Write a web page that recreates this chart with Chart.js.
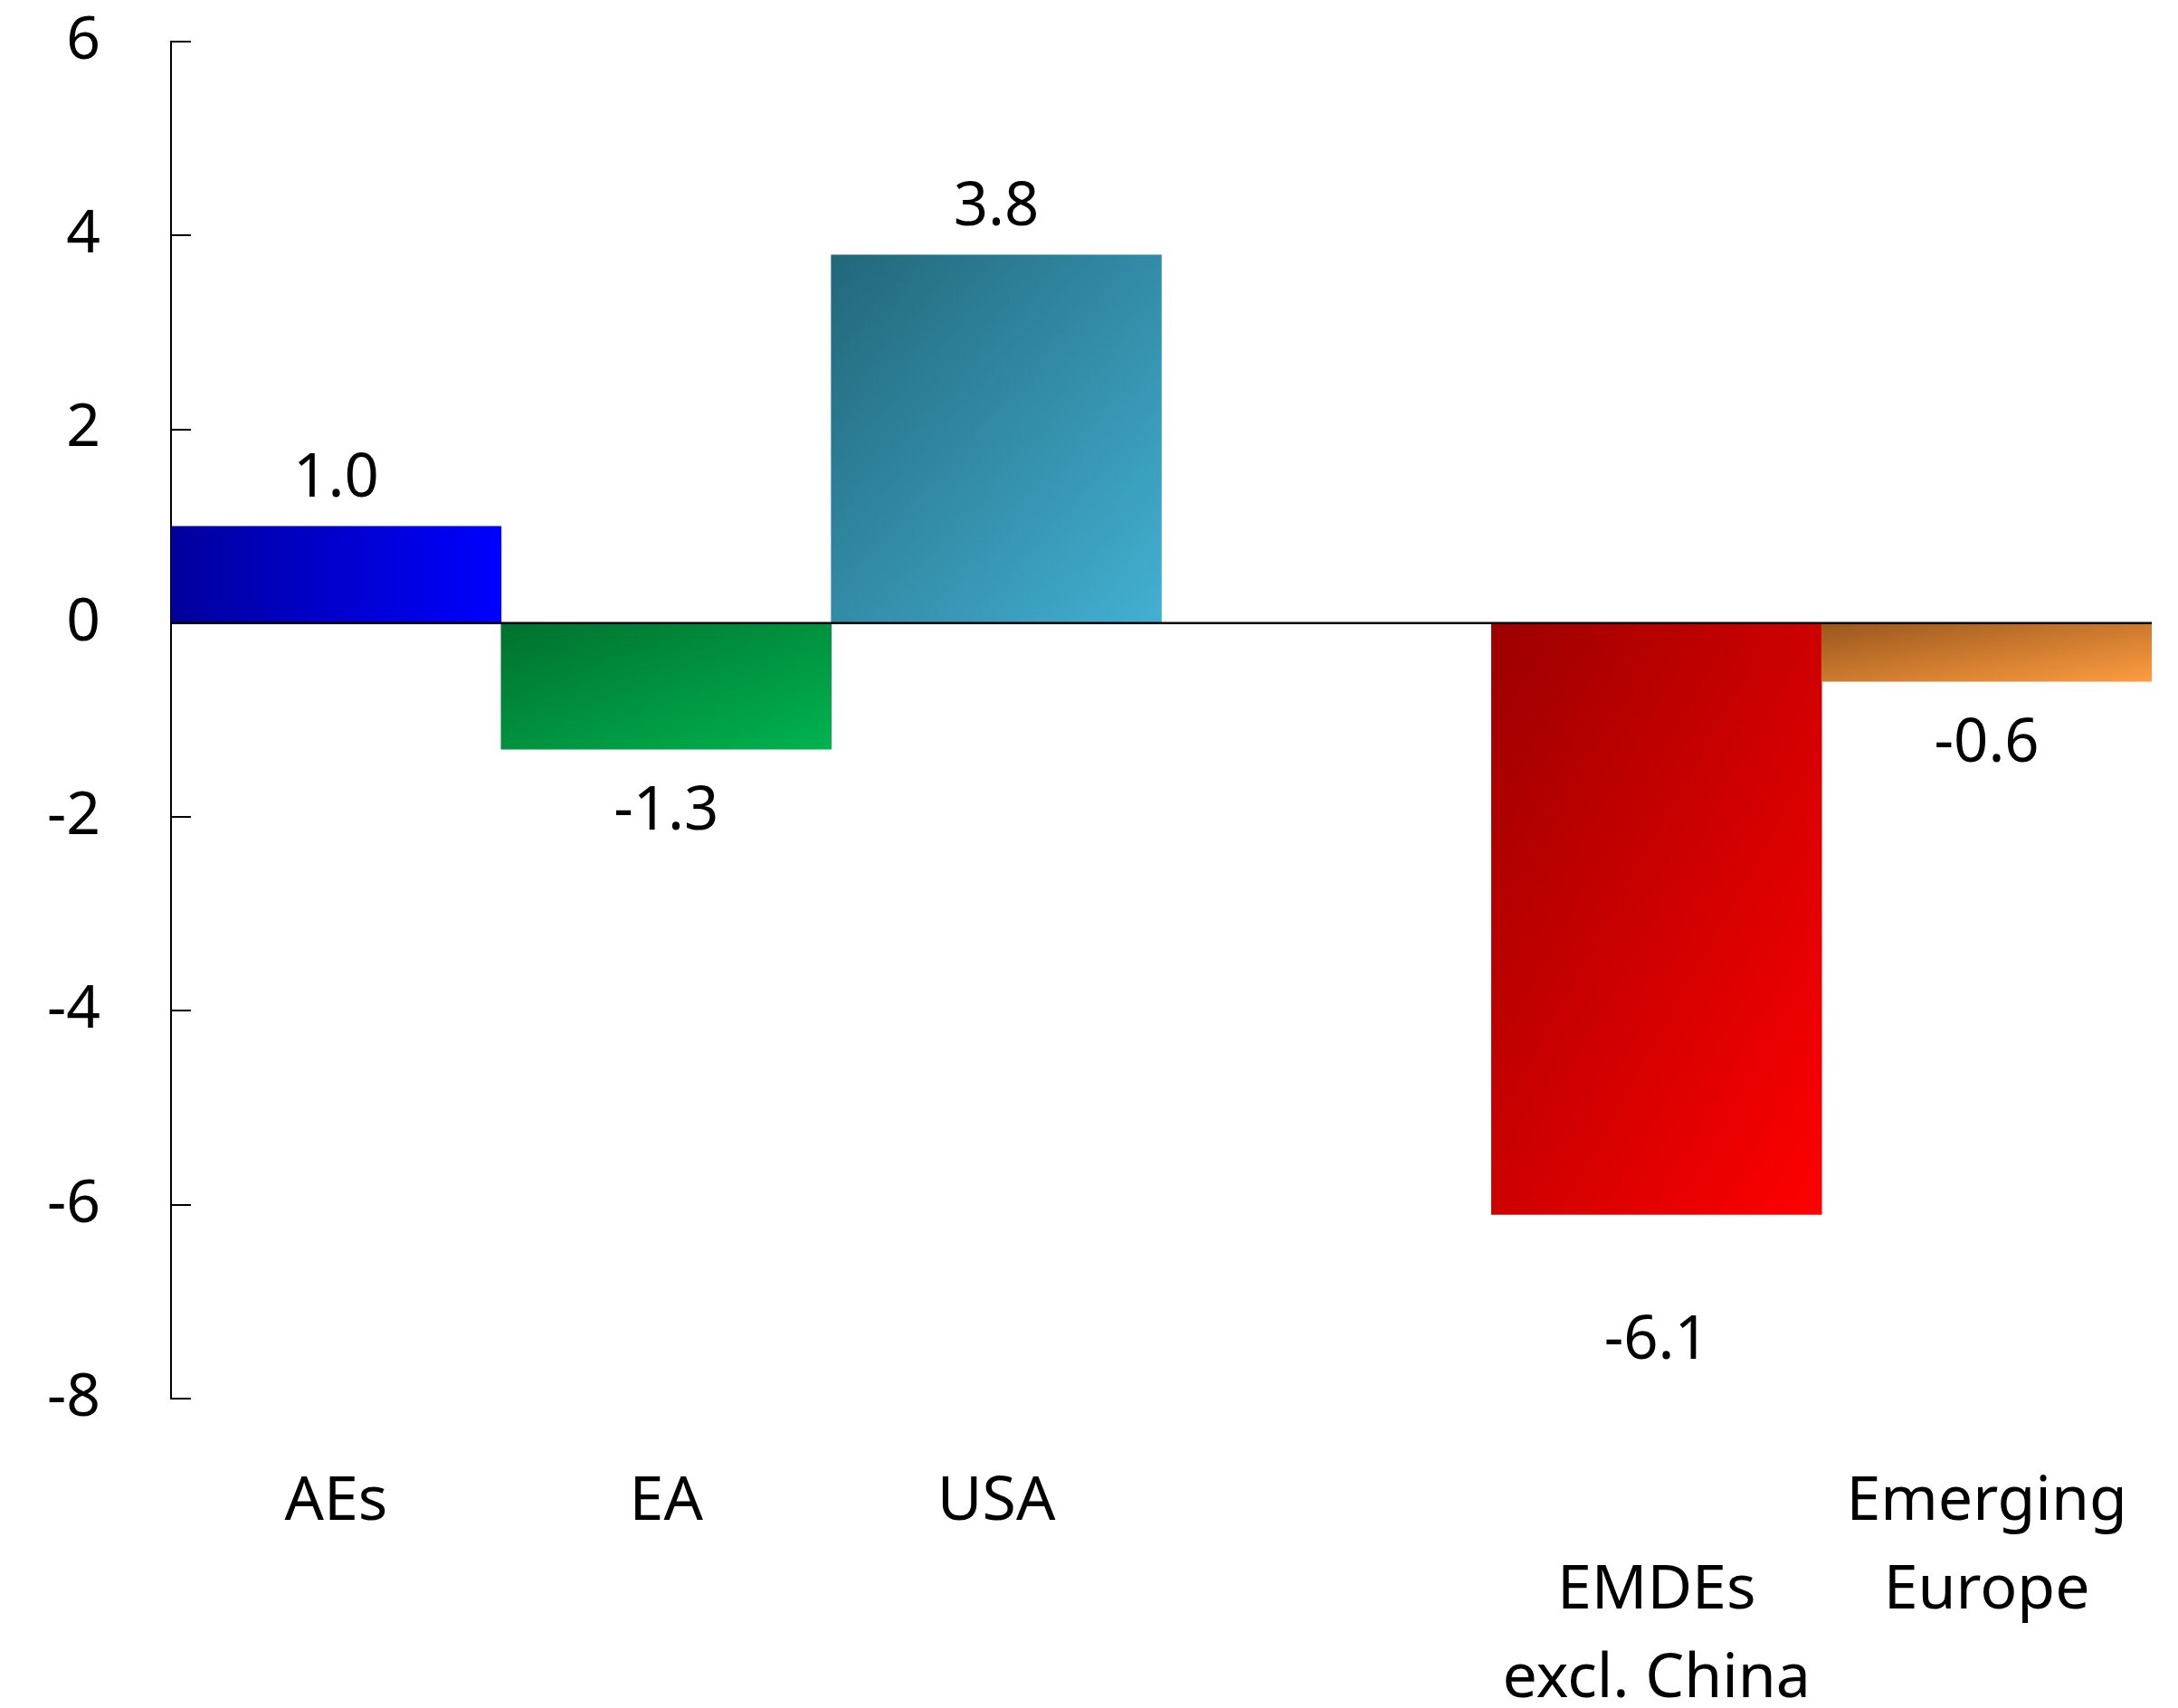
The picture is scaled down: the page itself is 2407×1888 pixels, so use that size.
<!DOCTYPE html>
<html>

<head>
  <title>Growth revisions</title>
  <script src="https://cdn.jsdelivr.net/npm/chart.js"></script>
  <style>
    body {
      margin: 0;
      background: #fff;
    }

    #chartContainer {
      width: 2407px;
      height: 1888px;
    }
  </style>
</head>

<body>
  <div id="chartContainer">
    <canvas id="myChart"></canvas>
  </div>

  <script>
    // one empty slot separates advanced economies from emerging ones
    const categories = ['AEs', 'EA', 'USA', '', ['', 'EMDEs', 'excl. China'], ['Emerging', 'Europe']];
    const values = [1.0, -1.3, 3.8, null, -6.1, -0.6];
    const yTicks = [6, 4, 2, 0, -2, -4, -6, -8];

    // dark corner -> light corner of each bar
    const barColors = [
      ['#00009c', '#0000ff'],
      ['#00712e', '#00b350'],
      ['#22677a', '#43b0d3'],
      ['#000000', '#000000'],
      ['#9c0000', '#ff0000'],
      ['#9a571d', '#fd9c40']
    ];
    const horizontalFill = [true, false, false, false, false, false];

    Chart.defaults.font.family = '"Noto Sans", sans-serif';
    Chart.defaults.font.size = 66;
    Chart.defaults.color = '#000';

    function barFill(context) {
      const chart = context.chart;
      const i = context.dataIndex;
      const v = values[i];
      const colors = barColors[i];
      if (!chart.chartArea || v == null) return colors[1];
      const x = chart.scales.x;
      const y = chart.scales.y;
      const half = (x.getPixelForValue(1) - x.getPixelForValue(0)) / 2;
      const l = x.getPixelForValue(i) - half;
      const r = x.getPixelForValue(i) + half;
      const t = y.getPixelForValue(Math.max(v, 0));
      const b = y.getPixelForValue(Math.min(v, 0));
      const w = r - l;
      const h = b - t;
      let g;
      if (horizontalFill[i]) {
        g = chart.ctx.createLinearGradient(l, 0, r, 0);
      } else {
        // diagonal that scales with the bar box
        const k = 2 * w * h / (w * w + h * h);
        g = chart.ctx.createLinearGradient(l, t, l + k * h, t + k * w);
      }
      g.addColorStop(0, colors[0]);
      g.addColorStop(1, colors[1]);
      return g;
    }

    // zero line, inward tick marks and value labels
    const axisMarks = {
      id: 'axisMarks',
      afterDatasetsDraw(chart) {
        const { ctx, chartArea } = chart;
        const x = chart.scales.x;
        const y = chart.scales.y;
        ctx.save();
        ctx.strokeStyle = '#000';
        ctx.lineWidth = 2.5;
        const y0 = y.getPixelForValue(0);
        ctx.beginPath();
        ctx.moveTo(chartArea.left, y0);
        ctx.lineTo(chartArea.right, y0);
        ctx.stroke();

        ctx.lineWidth = 2;
        ctx.beginPath();
        yTicks.forEach(v => {
          const p = Math.round(y.getPixelForValue(v));
          ctx.moveTo(chartArea.left, p);
          ctx.lineTo(chartArea.left + 22, p);
        });
        ctx.stroke();

        ctx.font = '67px "Noto Sans", sans-serif';
        ctx.fillStyle = '#000';
        ctx.textAlign = 'center';
        ctx.textBaseline = 'middle';
        values.forEach((v, i) => {
          if (v == null) return;
          const px = x.getPixelForValue(i);
          let py;
          if (v >= 0) {
            py = y.getPixelForValue(v) - 52;
          } else {
            // the deepest bar carries its label further down
            py = y.getPixelForValue(v) + (v < -5 ? 140 : 70);
          }
          ctx.fillText(v.toFixed(1), px, py);
        });
        ctx.restore();
      }
    };

    const ctx = document.getElementById('myChart').getContext('2d');
    new Chart(ctx, {
      type: 'bar',
      data: {
        labels: categories,
        datasets: [{
          data: values,
          backgroundColor: barFill,
          borderWidth: 0,
          barPercentage: 1,
          categoryPercentage: 1
        }]
      },
      options: {
        responsive: true,
        maintainAspectRatio: false,
        animation: false,
        layout: {
          padding: { top: 46, right: 29, left: 0, bottom: 0 }
        },
        plugins: {
          legend: { display: false },
          tooltip: { enabled: false }
        },
        scales: {
          x: {
            grid: { display: false, drawTicks: false },
            border: { display: false },
            ticks: {
              padding: 66,
              maxRotation: 0,
              autoSkip: false,
              font: { size: 68, lineHeight: 1.44 }
            },
            afterFit(scale) {
              scale.height = 342;
              scale.paddingLeft = 0;
              scale.paddingRight = 0;
            }
          },
          y: {
            min: -8,
            max: 6,
            grid: { display: false, drawTicks: false },
            border: { display: true, color: '#000', width: 2 },
            ticks: {
              stepSize: 2,
              padding: 78,
              font: { size: 66 }
            },
            afterFit(scale) {
              scale.width = 189;
              // keep the label padding from pushing the plot top down
              scale.paddingTop = 0;
              scale.paddingBottom = 0;
            }
          }
        }
      },
      plugins: [axisMarks]
    });
  </script>
</body>

</html>
